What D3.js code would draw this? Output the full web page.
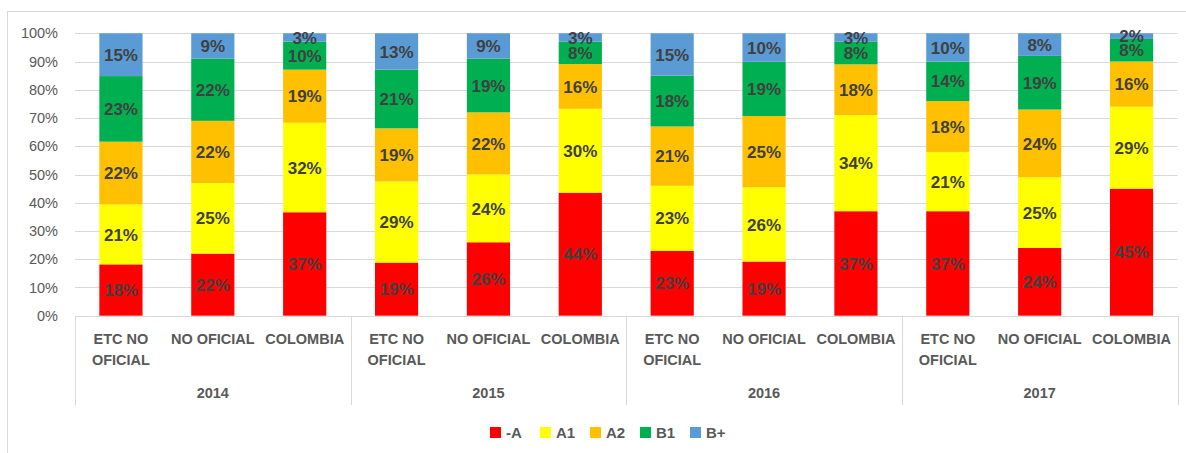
<!DOCTYPE html>
<html>
<head>
<meta charset="utf-8">
<script src="https://cdn.jsdelivr.net/npm/d3@7"></script>
<style>
  html, body { margin: 0; padding: 0; background: #fff; }
  svg { display: block; font-family: "Liberation Sans", Arial, sans-serif; }
</style>
</head>
<body>
<svg id="chart" width="1186" height="453"></svg>
<script>
// Years and the three groups compared within each year
const years = ["2014", "2015", "2016", "2017"];
const groups = ["ETC NO OFICIAL", "NO OFICIAL", "COLOMBIA"];

// Share of students per English level (percent), one entry per year/group
const levels = ["-A", "A1", "A2", "B1", "B+"];
const levelColors = ["#ff0000", "#ffff00", "#ffc000", "#00b050", "#5b9bd5"];

const valA  = [18, 22, 37, 19, 26, 44, 23, 19, 37, 37, 24, 45];
const valA1 = [21, 25, 32, 29, 24, 30, 23, 26, 34, 21, 25, 29];
const valA2 = [22, 22, 19, 19, 22, 16, 21, 25, 18, 18, 24, 16];
const valB1 = [23, 22, 10, 21, 19, 8, 18, 19, 8, 14, 19, 8];
const valBp = [15, 9, 3, 13, 9, 3, 15, 10, 3, 10, 8, 2];

const yTicks = [0, 0.1, 0.2, 0.3, 0.4, 0.5, 0.6, 0.7, 0.8, 0.9, 1];

// Build rows for the stack
const seriesValues = [valA, valA1, valA2, valB1, valBp];
const rows = [];
years.forEach((yr, i) => {
  groups.forEach((g, j) => {
    const idx = i * groups.length + j;
    const row = { key: yr + "|" + g, year: yr, group: g };
    levels.forEach((lv, k) => { row[lv] = seriesValues[k][idx]; });
    rows.push(row);
  });
});

const svg = d3.select("#chart");
const margin = { left: 75, right: 1177.5, top: 33.3, bottom: 315.7 };

const x = d3.scaleBand()
  .domain(rows.map(d => d.key))
  .range([margin.left, margin.right])
  .paddingInner(0.53)
  .paddingOuter(0.265);

const y = d3.scaleLinear().domain([0, 1]).range([margin.bottom, margin.top]);

const color = d3.scaleOrdinal().domain(levels).range(levelColors);

// Outer chart frame
svg.append("rect")
  .attr("x", 7.5).attr("y", 11.5)
  .attr("width", 1200).attr("height", 460)
  .attr("fill", "none").attr("stroke", "#d9d9d9").attr("stroke-width", 1);

// Horizontal gridlines
svg.append("g")
  .selectAll("line")
  .data(yTicks)
  .join("line")
  .attr("x1", margin.left).attr("x2", margin.right)
  .attr("y1", d => Math.round(y(d)) + 0.5).attr("y2", d => Math.round(y(d)) + 0.5)
  .attr("stroke", "#d9d9d9").attr("stroke-width", 1);

// Y axis labels
const yAxis = d3.axisLeft(y)
  .tickValues(yTicks)
  .tickFormat(d3.format(".0%"))
  .tickSize(0)
  .tickPadding(0);
const yG = svg.append("g")
  .attr("transform", `translate(${margin.left - 17},0)`)
  .call(yAxis);
yG.select(".domain").remove();
yG.selectAll("text")
  .attr("font-size", 14.5)
  .attr("fill", "#595959")
  .attr("font-family", "'Liberation Sans', Arial, sans-serif");

// Stacked bars normalised to 100%
const stack = d3.stack().keys(levels).offset(d3.stackOffsetExpand);
const stacked = stack(rows);

const layers = svg.append("g")
  .selectAll("g")
  .data(stacked)
  .join("g")
  .attr("fill", d => color(d.key));

layers.selectAll("rect")
  .data(d => d)
  .join("rect")
  .attr("x", d => x(d.data.key))
  .attr("width", x.bandwidth())
  .attr("y", d => y(d[1]))
  .attr("height", d => y(d[0]) - y(d[1]));

// Value labels
const labelLayers = svg.append("g")
  .selectAll("g")
  .data(stacked)
  .join("g");

labelLayers.selectAll("text")
  .data(s => s.map(d => ({ d, key: s.key })))
  .join("text")
  .attr("x", o => x(o.d.data.key) + x.bandwidth() / 2)
  .attr("y", o => y((o.d[0] + o.d[1]) / 2))
  .attr("dy", "0.36em")
  .attr("text-anchor", "middle")
  .attr("font-size", 17)
  .attr("font-weight", "bold")
  .attr("fill", "#404040")
  .text(o => o.d.data[o.key] + "%");

// Baseline and group separators for the two-level category axis
const axisG = svg.append("g").attr("stroke", "#d9d9d9").attr("stroke-width", 1);
axisG.append("line")
  .attr("x1", margin.left).attr("x2", margin.right)
  .attr("y1", Math.round(margin.bottom) + 0.5).attr("y2", Math.round(margin.bottom) + 0.5);

const groupStep = x.step() * groups.length;
const sepXs = d3.range(years.length + 1).map(i => margin.left + i * groupStep);
axisG.selectAll("line.sep")
  .data(sepXs)
  .join("line")
  .attr("class", "sep")
  .attr("x1", d => Math.round(d) + 0.5).attr("x2", d => Math.round(d) + 0.5)
  .attr("y1", Math.round(margin.bottom)).attr("y2", 405);

// Category labels (wrapped when wider than the slot)
const catG = svg.append("g")
  .attr("font-size", 14.5)
  .attr("font-weight", "bold")
  .attr("fill", "#595959")
  .attr("text-anchor", "middle");

rows.forEach(r => {
  const cx = x(r.key) + x.bandwidth() / 2;
  const t = catG.append("text").attr("x", cx).attr("y", 344);
  t.text(r.group);
  if (t.node().getComputedTextLength() > x.step() - 4) {
    const words = r.group.split(" ");
    const first = words.slice(0, 2).join(" ");
    const rest = words.slice(2).join(" ");
    t.text(null);
    t.append("tspan").attr("x", cx).attr("y", 344).text(first);
    t.append("tspan").attr("x", cx).attr("y", 365).text(rest);
  }
});

// Year labels
svg.append("g")
  .selectAll("text")
  .data(years)
  .join("text")
  .attr("x", (d, i) => margin.left + (i + 0.5) * groupStep)
  .attr("y", 398)
  .attr("text-anchor", "middle")
  .attr("font-size", 14.5)
  .attr("font-weight", "bold")
  .attr("fill", "#595959")
  .text(d => d);

// Legend
const legend = svg.append("g")
  .selectAll("g")
  .data(levels)
  .join("g")
  .attr("transform", (d, i) => `translate(${490 + i * 50},427)`);
legend.append("rect")
  .attr("width", 11).attr("height", 11)
  .attr("fill", d => color(d));
legend.append("text")
  .attr("x", 16).attr("y", 5.5).attr("dy", "0.36em")
  .attr("font-size", 15)
  .attr("font-weight", "bold")
  .attr("fill", "#595959")
  .text(d => d);
</script>
</body>
</html>
